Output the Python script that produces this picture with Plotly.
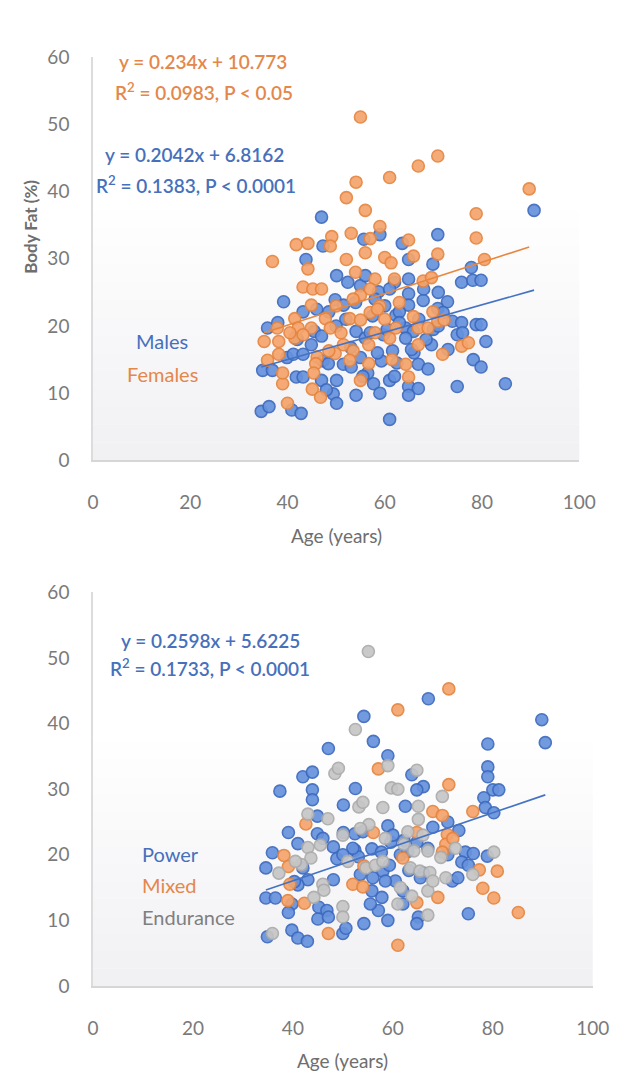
import plotly.graph_objects as go

# ---------------- data ----------------
# Top panel: Males / Females  (age in years, body fat %)
males_age = [47.0, 43.8, 47.3, 55.7, 59.0, 50.1, 52.4, 39.2, 49.8, 51.5, 35.9, 55.0, 58.7, 43.2, 48.5,
             39.9, 41.2, 43.2, 34.9, 36.9, 41.8, 43.2, 47.0, 50.1, 49.4, 50.1, 34.6, 36.2, 40.9, 42.8,
             54.1, 61.0, 59.3, 61.0, 57.7, 51.5, 53.1, 54.1, 56.0, 59.7, 62.3, 47.3, 48.4, 44.9, 61.6,
             55.0, 90.7, 70.9, 63.6, 64.9, 69.9, 77.8, 75.8, 78.1, 79.8, 64.9, 64.9, 64.9, 67.9, 72.9,
             70.9, 63.0, 64.3, 65.9, 64.3, 73.9, 75.8, 74.9, 78.8, 79.8, 80.8, 69.6, 78.2, 79.8, 66.9,
             68.9, 64.9, 66.9, 64.9, 74.9, 84.8, 57.5, 60.5, 53.0, 62.0, 45.5, 48.0, 58.0, 66.0, 70.0,
             72.0, 76.0, 68.0, 56.5, 62.5, 52.0, 54.0, 57.0, 58.5, 60.0, 61.0, 63.0, 65.5, 67.0, 68.5,
             71.0, 73.0, 56.0, 50.0, 47.0, 46.0, 42.0, 38.0, 55.5, 59.0, 62.0, 71.0]
males_bf = [36.2, 29.9, 31.9, 32.9, 33.6, 27.5, 26.5, 23.6, 23.9, 23.1, 19.7, 26.0, 25.1, 22.1, 22.1,
            15.3, 15.8, 15.8, 13.4, 13.4, 12.4, 12.4, 11.9, 11.9, 9.9, 8.5, 7.3, 8.0, 7.5, 7.0,
            9.7, 6.1, 14.8, 11.9, 11.4, 14.3, 13.9, 19.2, 18.2, 18.7, 21.6, 14.8, 14.4, 17.2, 16.3,
            15.3, 37.2, 33.6, 32.3, 29.9, 29.2, 28.7, 26.5, 26.8, 26.8, 27.0, 24.8, 23.1, 23.8, 23.6,
            22.6, 22.1, 19.7, 19.2, 18.2, 20.7, 20.5, 18.7, 20.2, 20.2, 17.7, 17.2, 15.0, 13.9, 14.3,
            13.6, 11.0, 10.7, 9.7, 11.0, 11.4, 21.5, 19.5, 16.8, 26.5, 19.2, 10.5, 24.0, 16.0, 19.5,
            22.0, 19.0, 25.5, 13.0, 14.5, 21.0, 23.5, 19.0, 16.0, 23.0, 25.5, 20.5, 16.5, 21.0, 18.0,
            20.0, 16.5, 27.5, 20.0, 18.5, 22.5, 18.0, 20.5, 12.5, 10.0, 12.5, 25.0]

females_age = [55.0, 61.0, 54.1, 52.1, 56.0, 59.0, 53.1, 41.8, 44.2, 49.1, 48.8, 36.9, 52.1, 56.0, 57.0,
               60.0, 61.3, 44.2, 43.2, 45.2, 58.0, 62.0, 55.0, 57.0, 44.9, 41.5, 44.9, 42.2, 47.8, 37.9,
               35.2, 38.2, 48.8, 52.8, 55.0, 57.0, 59.0, 60.0, 35.9, 38.2, 41.5, 43.2, 46.1, 45.8, 45.4,
               45.1, 46.8, 39.0, 40.0, 51.5, 53.5, 52.8, 55.0, 56.7, 56.7, 61.0, 62.3, 49.8, 48.5, 66.9,
               70.9, 89.7, 78.8, 78.8, 80.5, 64.9, 65.9, 70.9, 67.9, 69.6, 65.9, 66.9, 68.9, 70.9, 72.2,
               66.9, 71.9, 75.8, 77.2, 64.3, 64.9, 69.9, 50.0, 53.5, 58.0, 63.0, 61.5, 47.0, 51.0, 40.5,
               39.0, 58.5, 54.0]
females_bf = [51.1, 42.1, 41.4, 39.1, 37.2, 34.8, 33.8, 32.1, 32.3, 33.3, 31.9, 29.6, 29.9, 30.9, 33.0,
              30.2, 29.4, 28.5, 25.8, 25.5, 27.0, 27.0, 24.6, 25.5, 23.1, 21.1, 19.7, 19.7, 21.1, 19.7,
              17.7, 17.7, 19.7, 21.1, 20.9, 22.0, 23.0, 21.0, 14.9, 15.8, 18.2, 18.7, 15.4, 14.4, 13.0,
              10.6, 9.4, 11.4, 8.5, 17.2, 16.3, 14.9, 11.9, 14.4, 17.2, 18.2, 19.7, 15.9, 16.3, 43.8,
              45.3, 40.4, 36.7, 33.1, 29.9, 32.8, 30.4, 30.7, 26.7, 27.2, 21.4, 19.7, 19.7, 20.7, 20.9,
              17.2, 15.8, 17.0, 17.5, 14.3, 12.4, 22.1, 23.0, 24.0, 19.0, 23.5, 15.0, 25.5, 19.0, 19.0,
              13.0, 22.5, 28.0]

# Bottom panel: Power / Mixed / Endurance
power_age = [54.2, 47.1, 56.1, 59.0, 42.0, 43.9, 37.4, 43.9, 43.9, 52.5, 50.1, 44.9, 39.1, 41.0, 50.1,
             52.4, 44.9, 48.1, 35.9, 34.6, 48.8, 52.4, 53.1, 55.8, 59.0, 59.6, 57.7, 43.0, 41.0, 40.3,
             48.1, 34.6, 36.5, 39.8, 39.1, 45.2, 46.8, 45.0, 47.1, 34.9, 39.8, 41.0, 42.9, 50.0, 50.6,
             54.2, 57.1, 57.8, 55.8, 58.0, 59.3, 67.1, 89.8, 90.5, 79.0, 79.0, 79.0, 63.8, 66.1, 64.8,
             80.0, 81.2, 78.2, 78.5, 80.2, 62.5, 68.0, 73.2, 64.8, 62.2, 74.5, 76.1, 73.8, 75.1, 78.9,
             66.1, 71.9, 65.1, 64.8, 75.1, 63.2, 60.5, 61.5, 56.0, 53.5, 62.0, 52.0, 54.0, 58.5, 60.0,
             63.0, 65.5, 67.0, 71.0, 73.0, 50.0, 46.0, 42.0, 55.5, 59.0, 62.0, 71.0]
power_bf = [41.1, 36.2, 37.3, 35.1, 31.9, 32.6, 29.7, 29.9, 28.4, 30.1, 27.6, 25.9, 23.4, 21.7, 23.4,
            23.2, 23.2, 21.2, 20.3, 18.0, 19.4, 20.7, 19.7, 20.9, 24.4, 21.9, 20.4, 16.2, 15.4, 15.9,
            16.2, 13.4, 13.4, 12.5, 11.2, 12.0, 11.5, 10.2, 10.5, 7.5, 8.5, 7.3, 6.8, 8.0, 8.8,
            9.5, 11.5, 13.5, 14.5, 17.5, 18.4, 43.8, 40.6, 37.1, 36.9, 33.4, 31.9, 32.2, 30.4, 29.9,
            29.9, 29.9, 28.7, 27.2, 26.4, 27.4, 24.2, 23.7, 21.9, 22.2, 20.4, 20.2, 18.9, 18.4, 19.8,
            17.2, 16.0, 10.5, 9.5, 11.0, 17.6, 16.0, 20.0, 16.5, 17.0, 14.5, 21.0, 23.5, 16.0, 23.0,
            20.5, 16.5, 21.0, 20.0, 16.5, 20.0, 22.5, 18.0, 12.5, 10.0, 12.5, 25.0]

mixed_age = [61.0, 57.1, 42.6, 38.2, 39.1, 39.4, 42.3, 47.1, 52.0, 54.0, 56.1, 54.2, 61.0, 71.2, 71.2,
             68.0, 69.9, 76.0, 64.8, 70.9, 70.6, 69.9, 77.3, 80.9, 78.0, 80.2, 85.1, 69.0, 64.8, 39.0,
             62.0, 72.0]
mixed_bf = [42.1, 33.1, 24.7, 19.9, 18.2, 15.5, 12.6, 8.0, 15.5, 15.1, 23.4, 18.3, 6.2, 45.3, 30.7,
            26.6, 26.0, 26.6, 23.4, 23.1, 21.6, 20.4, 17.7, 17.5, 14.9, 13.4, 11.2, 13.5, 12.7, 13.0,
            19.5, 22.5]

endurance_age = [55.1, 52.5, 48.4, 49.1, 59.0, 59.7, 61.0, 43.0, 53.2, 58.0, 55.2, 43.0, 45.5, 43.6, 41.7,
                 37.2, 46.0, 46.2, 44.2, 50.0, 50.0, 54.6, 56.5, 35.9, 61.0, 64.8, 69.9, 65.1, 65.1, 62.2,
                 64.2, 67.0, 72.5, 80.2, 69.6, 63.5, 65.4, 67.4, 70.6, 76.0, 63.8, 67.0, 67.0, 50.0, 53.5,
                 58.0, 63.0, 61.5, 47.0, 51.0, 40.5, 58.5, 54.0, 66.0, 68.0]
endurance_bf = [51.0, 39.1, 32.4, 33.2, 33.6, 30.2, 30.0, 26.2, 27.3, 27.2, 24.6, 21.1, 21.5, 19.5, 18.5,
                17.2, 15.5, 14.6, 13.5, 12.1, 10.5, 18.0, 18.4, 8.0, 12.5, 32.9, 28.9, 27.4, 25.4, 21.6,
                20.6, 20.6, 21.0, 20.4, 19.6, 18.0, 17.5, 17.3, 16.5, 17.0, 13.7, 14.5, 10.8, 23.0, 24.0,
                19.0, 23.5, 15.0, 25.5, 19.0, 19.0, 22.5, 28.0, 23.0, 16.0]

# Regression coefficients printed on the chart
fit_males = (0.2042, 6.8162)
fit_females = (0.234, 10.773)
fit_power = (0.2598, 5.6225)

x_ticks = [0, 20, 40, 60, 80, 100]
y_ticks = [0, 10, 20, 30, 40, 50, 60]

# ---------------- styling ----------------
W, H = 622, 1076
FONT = "Lato, Open Sans, sans-serif"
BLUE_FILL, BLUE_EDGE = "#6692DD", "#3C69BE"
ORANGE_FILL, ORANGE_EDGE = "#F5A46C", "#E5853F"
GRAY_FILL, GRAY_EDGE = "#C6C6C6", "#ABABAB"
BLUE_TXT, ORANGE_TXT, GRAY_TXT = "#4670BC", "#E4874B", "#7F7F7F"
TICK_C = "#7A7A7A"


def px_x(px):
    return px / W


def px_y(py):
    return 1 - py / H


def marker(fill, edge):
    return dict(size=12, color=fill, opacity=0.92, line=dict(color=edge, width=1.6))


def trend(ages, coef, color, xa, ya):
    lo, hi = min(ages), max(ages)
    return go.Scatter(x=[lo, hi], y=[coef[0] * lo + coef[1], coef[0] * hi + coef[1]],
                      mode="lines", line=dict(color=color, width=1.6), xaxis=xa, yaxis=ya,
                      showlegend=False, hoverinfo="skip")


fig = go.Figure()
fig.add_trace(go.Scatter(x=males_age, y=males_bf, mode="markers", marker=marker(BLUE_FILL, BLUE_EDGE),
                         xaxis="x", yaxis="y", name="Males"))
fig.add_trace(go.Scatter(x=females_age, y=females_bf, mode="markers", marker=marker(ORANGE_FILL, ORANGE_EDGE),
                         xaxis="x", yaxis="y", name="Females"))
fig.add_trace(trend(females_age, fit_females, "#E8873F", "x", "y"))
fig.add_trace(trend(males_age, fit_males, "#4472C4", "x", "y"))

fig.add_trace(go.Scatter(x=power_age, y=power_bf, mode="markers", marker=marker(BLUE_FILL, BLUE_EDGE),
                         xaxis="x2", yaxis="y2", name="Power"))
fig.add_trace(go.Scatter(x=mixed_age, y=mixed_bf, mode="markers", marker=marker(ORANGE_FILL, ORANGE_EDGE),
                         xaxis="x2", yaxis="y2", name="Mixed"))
fig.add_trace(go.Scatter(x=endurance_age, y=endurance_bf, mode="markers", marker=marker(GRAY_FILL, GRAY_EDGE),
                         xaxis="x2", yaxis="y2", name="Endurance"))
fig.add_trace(trend(power_age + mixed_age + endurance_age, fit_power, "#4472C4", "x2", "y2"))

top_x = [px_x(82), px_x(587)]
top_y = [px_y(450), px_y(38)]
bot_x = [px_x(82), px_x(601)]
bot_y = [px_y(987), px_y(585)]

ax_common = dict(showgrid=False, zeroline=False, showline=True, ticks="",
                 tickfont=dict(family=FONT, size=19, color=TICK_C), fixedrange=True)

fig.update_layout(
    width=W, height=H, margin=dict(l=0, r=0, t=0, b=0),
    paper_bgcolor="white", plot_bgcolor="rgba(0,0,0,0)", showlegend=False,
    xaxis=dict(domain=top_x, range=[0, 100], tickvals=x_ticks, linecolor="#D6D6D6", linewidth=2,
               ticklabelstandoff=24, anchor="y", **ax_common),
    yaxis=dict(domain=top_y, range=[0, 60], tickvals=y_ticks, linecolor="#DCDCDC", linewidth=1.5,
               ticklabelstandoff=18, anchor="x", **ax_common),
    xaxis2=dict(domain=bot_x, range=[0, 100], tickvals=x_ticks, linecolor="#D6D6D6", linewidth=2,
                ticklabelstandoff=24, anchor="y2", **ax_common),
    yaxis2=dict(domain=bot_y, range=[0, 60], tickvals=y_ticks, linecolor="#DCDCDC", linewidth=1.5,
                ticklabelstandoff=18, anchor="x2", **ax_common),
)

# soft gradient in the lower part of each plot area
shapes = []
nb = 14
for xr, yr in (("x domain", "y domain"), ("x2 domain", "y2 domain")):
    for i in range(nb):
        y0 = 0.62 * i / nb
        y1 = 0.62 * (i + 1) / nb
        op = 0.9 * (1 - i / nb)
        shapes.append(dict(type="rect", xref=xr, yref=yr, x0=0, x1=1, y0=y0, y1=y1,
                           fillcolor="#EFEFF3", opacity=op, line=dict(width=0), layer="below"))
fig.update_layout(shapes=shapes)


def note(text, x, y, color, size=19, xanchor="center", angle=0, weight="normal"):
    fig.add_annotation(text=text, x=px_x(x), y=px_y(y), xref="paper", yref="paper", showarrow=False,
                       xanchor=xanchor, yanchor="middle", textangle=angle,
                       font=dict(family=FONT, size=size, color=color, weight=weight))


# top panel texts
note(f"y = {fit_females[0]}x + {fit_females[1]}", 196, 42, ORANGE_TXT, weight=600)
note("R<sup>2</sup> = 0.0983, P < 0.05", 197, 73, ORANGE_TXT, weight=600)
note(f"y = {fit_males[0]}x + {fit_males[1]}", 187, 137, BLUE_TXT, weight=600)
note("R<sup>2</sup> = 0.1383, P < 0.0001", 189, 168, BLUE_TXT, weight=600)
note("Males", 154, 328, BLUE_TXT, size=20)
note("Females", 154, 362, ORANGE_TXT, size=20)
note("Body Fat (%)", 17, 211, "#6E6E6E", size=17, angle=-90, weight="bold")
note("Age (years)", 335, 527, "#6E6E6E", size=19)

# bottom panel texts
note(f"y = {fit_power[0]}x + {fit_power[1]}", 204, 634, BLUE_TXT, weight=600)
note("R<sup>2</sup> = 0.1733, P < 0.0001", 204, 662, BLUE_TXT, weight=600)
note("Power", 131, 852, BLUE_TXT, size=20, xanchor="left")
note("Mixed", 131, 884, ORANGE_TXT, size=20, xanchor="left")
note("Endurance", 131, 917, GRAY_TXT, size=20, xanchor="left")
note("Age (years)", 341, 1063, "#6E6E6E", size=19)

fig.write_html("out.html")
